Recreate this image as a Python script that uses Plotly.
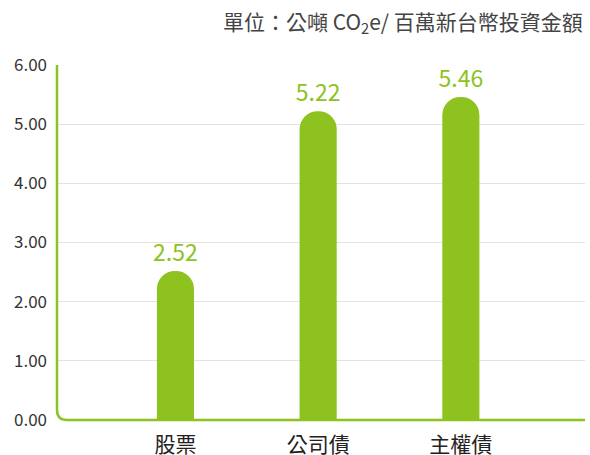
import plotly.graph_objects as go

categories = ["股票", "公司債", "主權債"]
values = [2.52, 5.22, 5.46]
value_labels = ["2.52", "5.22", "5.46"]
y_ticks = [0, 1, 2, 3, 4, 5, 6]
y_tick_labels = ["0.00", "1.00", "2.00", "3.00", "4.00", "5.00", "6.00"]
unit_text = "單位：公噸 CO<sub>2</sub>e/ 百萬新台幣投資金額"

GREEN = "#8DC21F"
FONT = "Noto Sans CJK TC, Noto Sans, sans-serif"

fig = go.Figure()
fig.add_trace(go.Bar(
    x=categories,
    y=values,
    width=0.26,
    marker=dict(color=GREEN, line=dict(width=0)),
    text=value_labels,
    textposition="outside",
    constraintext="none",
    textfont=dict(color=GREEN, size=23, family=FONT),
    cliponaxis=False,
    hoverinfo="skip",
))

W, H = 590, 455
ml, mr, mt, mb = 57, 5, 65, 35
pw, ph = W - ml - mr, H - mt - mb
r = 10
rx, ry = r / pw, r / ph

fig.update_layout(
    width=W, height=H,
    margin=dict(l=ml, r=mr, t=mt, b=mb, pad=0, autoexpand=False),
    paper_bgcolor="white",
    plot_bgcolor="white",
    showlegend=False,
    barcornerradius="50%",
    font=dict(family=FONT, color="#333333"),
    xaxis=dict(
        range=[-0.83, 2.87],
        automargin=False,
        showline=False,
        showgrid=False,
        zeroline=False,
        ticks="",
        tickfont=dict(size=21, color="#222222", family=FONT),
        ticklabelstandoff=10,
    ),
    yaxis=dict(
        range=[0, 6],
        automargin=False,
        tickvals=y_ticks,
        ticktext=y_tick_labels,
        showline=False,
        zeroline=False,
        showgrid=True,
        gridcolor="#E3E3E3",
        gridwidth=1,
        ticks="",
        tickfont=dict(size=17, color="#333333", family=FONT),
        ticklabelstandoff=9,
    ),
    shapes=[dict(
        type="path",
        xref="paper", yref="paper",
        path=f"M 0,1 L 0,{ry} Q 0,0 {rx},0 L 1,0",
        line=dict(color=GREEN, width=2.5),
        layer="above",
    )],
    annotations=[dict(
        text=unit_text,
        xref="paper", yref="paper",
        x=1, y=1 + (mt - 22) / ph,
        xanchor="right", yanchor="middle",
        showarrow=False,
        font=dict(size=21, color="#444444", family=FONT),
    )],
)

fig.write_html(
    "out.html",
    config={"displayModeBar": False},
    post_script="document.body.style.margin='0';document.body.style.overflow='hidden';",
)
